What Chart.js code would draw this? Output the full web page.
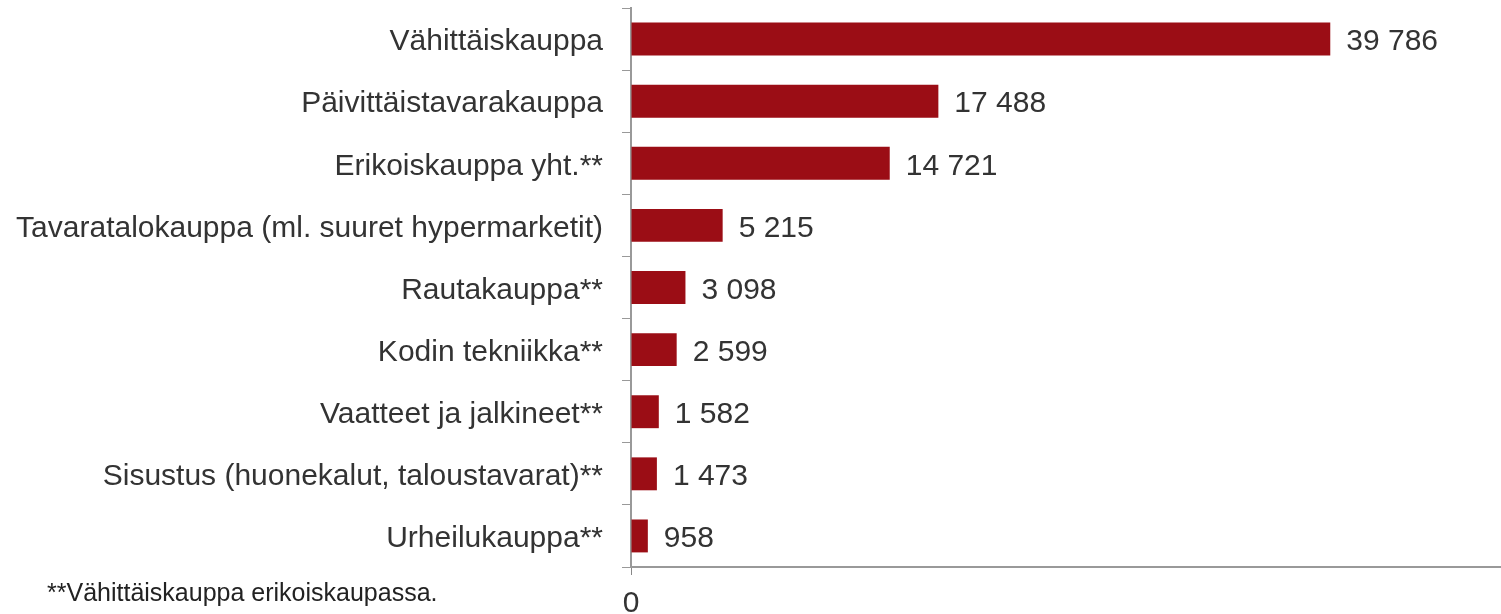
<!DOCTYPE html>
<html>
<head>
<meta charset="utf-8">
<script src="https://cdn.jsdelivr.net/npm/chart.js"></script>
<style>
  html, body { margin: 0; padding: 0; background: #fff; }
</style>
</head>
<body>
<canvas id="myChart" width="1501" height="614"></canvas>
<script>
// data
var categories = [
  'Vähittäiskauppa',
  'Päivittäistavarakauppa',
  'Erikoiskauppa yht.**',
  'Tavaratalokauppa (ml. suuret hypermarketit)',
  'Rautakauppa**',
  'Kodin tekniikka**',
  'Vaatteet ja jalkineet**',
  'Sisustus (huonekalut, taloustavarat)**',
  'Urheilukauppa**'
];
var values = [39786, 17488, 14721, 5215, 3098, 2599, 1582, 1473, 958];
var xTickValues = [0];
var footnote = '**Vähittäiskauppa erikoiskaupassa.';

var fontFamily = '"Liberation Sans", Arial, sans-serif';

function formatNumber(n) {
  return String(n).replace(/\B(?=(\d{3})+(?!\d))/g, ' ');
}

// value labels next to bars
var valueLabels = {
  id: 'valueLabels',
  afterDatasetsDraw: function(chart) {
    var c = chart.ctx;
    var meta = chart.getDatasetMeta(0);
    c.save();
    c.font = '30px ' + fontFamily;
    c.fillStyle = '#333333';
    c.textAlign = 'left';
    c.textBaseline = 'middle';
    meta.data.forEach(function(bar, i) {
      c.fillText(formatNumber(values[i]), bar.x + 16, bar.y + 3);
    });
    c.restore();
  }
};

// footnote at bottom left
var footnotePlugin = {
  id: 'footnote',
  afterDraw: function(chart) {
    var c = chart.ctx;
    c.save();
    c.font = '25px ' + fontFamily;
    c.fillStyle = '#222222';
    c.textAlign = 'left';
    c.textBaseline = 'middle';
    c.fillText(footnote, 47, 594);
    c.restore();
  }
};

var canvas = document.getElementById('myChart');
var myChart = new Chart(canvas.getContext('2d'), {
  type: 'bar',
  data: {
    labels: categories,
    datasets: [{
      data: values,
      backgroundColor: '#9b0d15',
      borderWidth: 0,
      categoryPercentage: 1,
      barPercentage: 0.53
    }]
  },
  options: {
    indexAxis: 'y',
    responsive: false,
    animation: false,
    devicePixelRatio: 1,
    layout: { padding: { top: 8, left: 0, right: 0, bottom: 0 } },
    plugins: {
      legend: { display: false },
      tooltip: { enabled: false }
    },
    scales: {
      x: {
        min: 0,
        max: 49500,
        afterBuildTicks: function(scale) {
          scale.ticks = xTickValues.map(function(v) { return { value: v }; });
        },
        afterFit: function(scale) {
          scale.height = 47;
          scale.paddingLeft = 0;
          scale.paddingRight = 0;
        },
        grid: {
          drawOnChartArea: false,
          drawTicks: true,
          tickLength: 8,
          color: '#888888'
        },
        border: { display: true, color: '#999999', width: 2 },
        ticks: {
          padding: 11,
          color: '#333333',
          font: { size: 30, family: fontFamily }
        }
      },
      y: {
        afterFit: function(scale) {
          scale.width = 631;
          scale.paddingTop = 0;
          scale.paddingBottom = 0;
        },
        grid: {
          offset: true,
          drawOnChartArea: false,
          drawTicks: true,
          tickLength: 9,
          color: '#999999'
        },
        border: { display: true, color: '#999999', width: 2 },
        ticks: {
          padding: 19,
          labelOffset: 3,
          color: '#333333',
          font: { size: 30, family: fontFamily }
        }
      }
    }
  },
  plugins: [valueLabels, footnotePlugin]
});
</script>
</body>
</html>
